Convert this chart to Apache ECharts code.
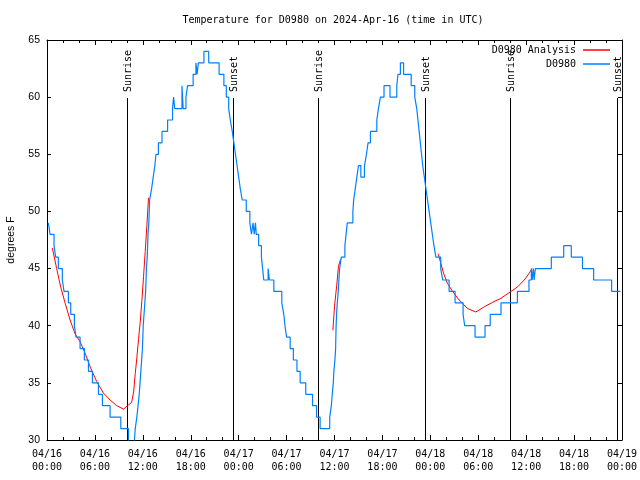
<!DOCTYPE html>
<html><head><meta charset="utf-8">
<script src="https://cdn.jsdelivr.net/npm/echarts@6/dist/echarts.min.js"></script>
<style>html,body{margin:0;padding:0;background:#fff}#c{width:640px;height:480px}</style>
</head><body><div id="c"></div>
<script>
// Hours since 2024-04-16 00:00 UTC
const xTickLabels = ['04/16\n00:00','04/16\n06:00','04/16\n12:00','04/16\n18:00','04/17\n00:00','04/17\n06:00','04/17\n12:00','04/17\n18:00','04/18\n00:00','04/18\n06:00','04/18\n12:00','04/18\n18:00','04/19\n00:00'];
const yTickValues = [30,35,40,45,50,55,60,65];

const sunTime  = [10.02, 23.33, 33.98, 47.37, 58.02, 71.41];
const sunLabel = ['Sunrise','Sunset','Sunrise','Sunset','Sunrise','Sunset'];

// D0980 observations (value holds from the given hour until the next)
const obsTime = [0.17,0.38,0.88,1.09,1.42,1.92,2.13,2.68,2.97,3.43,3.64,4.14,4.68,5.19,5.69,6.44,6.94,7.9,9.24,10.2,10.95,11.05,11.25,11.4,11.55,11.65,11.75,11.85,11.95,12.05,12.15,12.25,12.35,12.45,12.55,12.65,12.75,12.85,13.1,13.3,13.5,13.65,13.95,14.4,15.1,15.72,15.85,16.0,16.9,17.05,17.4,17.6,18.3,18.65,18.8,18.95,19.65,20.25,21.55,22.15,22.45,22.75,22.95,23.2,23.4,23.6,23.8,24.0,24.2,24.45,24.95,25.4,25.6,25.8,25.95,26.1,26.2,26.5,26.85,27.0,27.14,27.69,27.85,28.4,29.4,29.65,29.8,30.0,30.45,30.85,31.3,31.7,32.4,33.25,33.75,34.2,35.4,35.6,35.72,35.85,35.92,36.05,36.14,36.2,36.26,36.35,36.47,36.55,36.64,36.85,37.3,37.45,37.6,38.3,38.4,38.6,38.8,39.0,39.3,39.75,40.0,40.2,40.5,41.3,41.5,41.75,42.2,42.95,43.8,43.95,44.25,44.65,45.6,46.05,46.3,46.45,46.6,46.75,46.9,47.05,47.25,47.45,47.65,47.85,48.05,48.25,48.45,48.7,49.3,49.55,50.35,51.1,52.1,52.3,53.6,54.85,55.5,56.85,58.9,60.35,60.65,60.75,60.9,61.0,61.15,63.15,64.7,65.65,67.05,68.45,70.7,71.8];
const obsTemp = [49,48,47,46,45,44,43,42,41,40,39,38,37,36,35,34,33,32,31,29,30,31,32,33,34,35,36,37,38,40,41,42,43,45,46,48,49,51,52,53,54,55,56,57,58,59,60,59,61,59,60,61,62,63,62,63,64,63,62,61,60,59,58,57,56,55,54,53,52,51,50,49,48,49,48,49,48,47,46,45,44,45,44,43,42,41,40,39,38,37,36,35,34,33,32,31,32,33,34,35,36,37,38,40,41,42,43,44,45,46,47,48,49,50,51,52,53,54,53,54,55,56,57,58,59,60,61,60,61,62,63,62,61,60,59,58,57,56,55,54,53,52,51,50,49,48,47,46,45,44,43,42,41,40,39,40,41,42,43,44,45,44,45,44,45,46,47,46,45,44,43,43];

// D0980 Analysis (null = gap)
const anaTime = [0.67,1.21,1.71,2.26,2.89,3.51,4.14,4.77,5.4,6.23,7.07,7.9,8.74,9.58,10.08,10.6,10.85,11.05,11.25,11.46,11.67,11.88,12.09,12.3,12.51,12.71,null,35.8,36.0,36.26,36.5,36.76,null,48.97,49.3,49.65,50.15,50.78,51.6,52.66,53.7,54.74,55.8,56.84,58.1,58.93,59.76,60.39,60.73];
const anaTemp = [46.8,45.0,43.4,42.0,40.5,39.3,38.6,37.6,36.4,35.1,34.1,33.5,33.0,32.7,33.0,33.3,34.2,35.8,37.2,38.8,40.3,42.2,44.3,46.5,48.8,51.2,null,39.6,41.7,43.4,45.2,45.8,null,46.3,45.5,44.6,43.7,43.0,42.25,41.5,41.2,41.65,42.05,42.4,43.0,43.4,44.0,44.6,45.0];

const MONO = '"DejaVu Sans Mono", "Liberation Mono", monospace';
const SANS = '"Liberation Sans", Arial, sans-serif';
const RED = '#ff0000', BLUE = '#0080ff';

const chart = echarts.init(document.getElementById('c'), null, {renderer:'canvas'});

const xBase = {
  type:'value', min:0, max:72, interval:6,
  axisLine:{show:true, onZero:false, lineStyle:{color:'#000', width:1}},
  axisTick:{show:true, inside:true, length:5, lineStyle:{color:'#000'}},
  minorTick:{show:true, splitNumber:3, length:3, lineStyle:{color:'#000'}},
  splitLine:{show:false}
};
const yBase = {
  type:'value', min:30, max:65, interval:5,
  axisLine:{show:true, onZero:false, lineStyle:{color:'#000', width:1}},
  axisTick:{show:true, inside:true, length:4, lineStyle:{color:'#000'}},
  splitLine:{show:false}
};

chart.setOption({
  animation:false,
  backgroundColor:'#fff',
  title:{
    text:'Temperature for D0980 on 2024-Apr-16 (time in UTC)',
    left:328, top:10, textAlign:'center',
    textStyle:{fontFamily:MONO, fontSize:10, fontWeight:'normal', color:'#000'}
  },
  legend:{
    data:['D0980 Analysis','D0980'],
    orient:'vertical', right:25, top:39, align:'right',
    icon:'rect', itemWidth:27, itemHeight:1.5, itemGap:2,
    textStyle:{fontFamily:MONO, fontSize:10, color:'#000', lineHeight:12, padding:[0,2,0,0]},
    selectedMode:false
  },
  grid:{left:47, right:18, top:40, bottom:40, containLabel:false, outerBoundsMode:'none'},
  xAxis:[
    Object.assign({}, xBase, {
      position:'bottom',
      axisLabel:{show:true, margin:8, showMinLabel:true, showMaxLabel:true,
        fontFamily:MONO, fontSize:10, lineHeight:13, color:'#000',
        formatter:(v)=>xTickLabels[Math.round(v/6)]}
    }),
    Object.assign({}, xBase, {position:'top', axisLabel:{show:false}})
  ],
  yAxis:[
    Object.assign({}, yBase, {
      position:'left',
      name:'degrees F', nameLocation:'middle', nameGap:30, nameRotate:90,
      nameTextStyle:{fontFamily:SANS, fontSize:10.5, color:'#000'},
      axisLabel:{show:true, margin:7, fontFamily:SANS, fontSize:10.5, color:'#000',
        formatter:(v)=> yTickValues.indexOf(v) >= 0 ? String(v) : ''}
    }),
    Object.assign({}, yBase, {position:'right', axisLabel:{show:false}})
  ],
  series:[
    {
      type:'custom', name:'sun', xAxisIndex:0, yAxisIndex:0, silent:true, z:1,
      data: sunTime.map((t,i)=>[t,i]),
      renderItem:(params, api)=>{
        const t = api.value(0);
        const label = sunLabel[api.value(1)];
        const b = api.coord([t,30]);
        const top = api.coord([t,65]);
        const x = Math.round(b[0]) + 0.5;
        return {type:'group', children:[
          {type:'line', shape:{x1:x, y1:b[1], x2:x, y2:top[1]+58},
           style:{stroke:'#000', lineWidth:1}},
          {type:'text', x:x+1, y:top[1]+52, rotation:Math.PI/2,
           style:{text:label, align:'left', verticalAlign:'middle',
                  font:'10px ' + MONO, fill:'#000'}}
        ]};
      }
    },
    {
      type:'line', name:'D0980 Analysis', z:3,
      data: anaTime.map((t,i)=> t===null ? ['-','-'] : [t, anaTemp[i]]),
      showSymbol:false, symbol:'none', connectNulls:false,
      lineStyle:{color:RED, width:1}, itemStyle:{color:RED}
    },
    {
      type:'line', name:'D0980', z:4, step:'end',
      data: obsTime.map((t,i)=>[t, obsTemp[i]]),
      showSymbol:false, symbol:'none',
      lineStyle:{color:BLUE, width:1.2}, itemStyle:{color:BLUE}
    }
  ]
});
</script>
</body></html>
